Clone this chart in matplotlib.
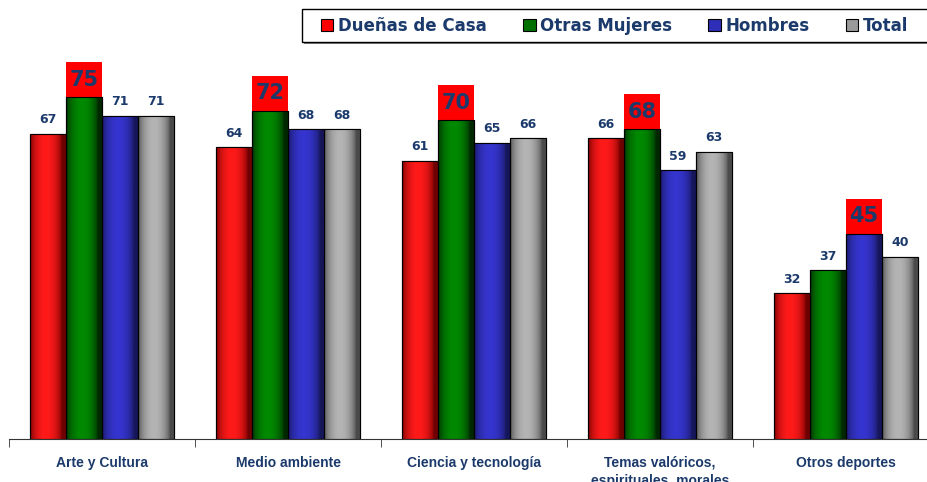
import matplotlib.pyplot as plt
import numpy as np
from matplotlib.colors import LinearSegmentedColormap
from matplotlib.patches import Patch, Rectangle

categories = ['Arte y Cultura', 'Medio ambiente', 'Ciencia y tecnología',
              'Temas valóricos,\nespirituales, morales', 'Otros deportes']
series = ['Dueñas de Casa', 'Otras Mujeres', 'Hombres', 'Total']
duenas = [67, 64, 61, 66, 32]
otras = [75, 72, 70, 68, 37]
hombres = [71, 68, 65, 59, 45]
total = [71, 68, 66, 63, 40]
values = [duenas, otras, hombres, total]

# (dark edge, bright middle) for the cylinder look
shades = [('#6e0000', '#ff1a1a'), ('#002800', '#008a00'),
          ('#16165a', '#3535cf'), ('#4a4a4a', '#b4b4b4')]
flat = ['#ff0000', '#007000', '#2e2eb8', '#9a9a9a']
navy = '#1b3a6b'

plt.rcParams['font.family'] = ['DejaVu Sans']
fig = plt.figure(figsize=(9.28, 4.82), dpi=100)
ax = fig.add_axes([9 / 928, 43 / 482, 930 / 928, 410 / 482])

n = len(categories)
x = np.arange(n)
w = 0.194
ax.set_xlim(-0.5, n - 0.5)
ax.set_ylim(0, 90)

grad = np.linspace(0, 1, 64)
profile = np.clip(np.sin(np.pi * np.clip(grad * 1.15, 0, 1)) ** 0.6, 0, 1)
profile = np.vstack([profile, profile])

for i, vals in enumerate(values):
    pos = x + (i - 1.5) * w
    bars = ax.bar(pos, vals, w, color=flat[i], edgecolor='black', linewidth=0.8,
                  zorder=2)
    cmap = LinearSegmentedColormap.from_list('s%d' % i, list(shades[i]))
    for b in bars:
        x0, y0 = b.get_x(), b.get_y()
        im = ax.imshow(profile, cmap=cmap, aspect='auto', interpolation='bicubic',
                       extent=[x0, x0 + b.get_width(), y0, y0 + b.get_height()],
                       zorder=2.5)
        im.set_clip_path(b)
        # redraw edge on top
        ax.bar(b.get_x() + b.get_width() / 2, b.get_height(), b.get_width(),
               fill=False, edgecolor='black', linewidth=0.8, zorder=3)

# labels: highlight the max of each category
data = np.array(values)
for j in range(n):
    best = data[:, j].argmax()
    for i in range(len(series)):
        xp = x[j] + (i - 1.5) * w
        v = data[i, j]
        if i == best:
            ax.bar(xp, 7.7, w, bottom=v, color='#ff0000', zorder=2)
            ax.text(xp, v + 3.85, str(v), ha='center', va='center',
                    fontsize=15, fontweight='bold', color=navy, zorder=4)
        else:
            ax.text(xp, v + 3.1, str(v), ha='center', va='center',
                    fontsize=9, fontweight='bold', color=navy, zorder=4)

ax.set_xticks(x)
ax.set_xticklabels(categories, fontsize=10, fontweight='bold', color=navy,
                   family=['Liberation Sans', 'DejaVu Sans'],
                   linespacing=1.35, va='top')
ax.tick_params(axis='x', which='major', length=0, pad=12)
ax.set_xticks(np.arange(n + 1) - 0.5, minor=True)
ax.tick_params(axis='x', which='minor', length=6, color='#333333')
ax.set_yticks([])
for s in ['top', 'right', 'left']:
    ax.spines[s].set_visible(False)
ax.spines['bottom'].set_color('#333333')

# legend box (runs off the right edge like the original)
W, H = 928, 482
fig.patches.append(Rectangle((304 / W, 1 - 44 / H), 640 / W, 33 / H,
                             transform=fig.transFigure, facecolor='#808080',
                             edgecolor='none', zorder=1))
fig.patches.append(Rectangle((302 / W, 1 - 42 / H), 640 / W, 33 / H,
                             transform=fig.transFigure, facecolor='white',
                             edgecolor='black', linewidth=1.0, zorder=2))

handles = [Patch(facecolor=flat[i], edgecolor='black', linewidth=0.8)
           for i in range(len(series))]
leg = fig.legend(handles, series, loc='center left', ncol=4,
                 bbox_to_anchor=(321 / W, 1 - 26 / H), frameon=False,
                 prop={'weight': 'bold', 'size': 12},
                 handlelength=0.75, handleheight=0.75, handletextpad=0.25,
                 columnspacing=2.2, borderpad=0, borderaxespad=0)
leg.set_zorder(3)
for t in leg.get_texts():
    t.set_color(navy)

fig.savefig('out.png', dpi=100)
